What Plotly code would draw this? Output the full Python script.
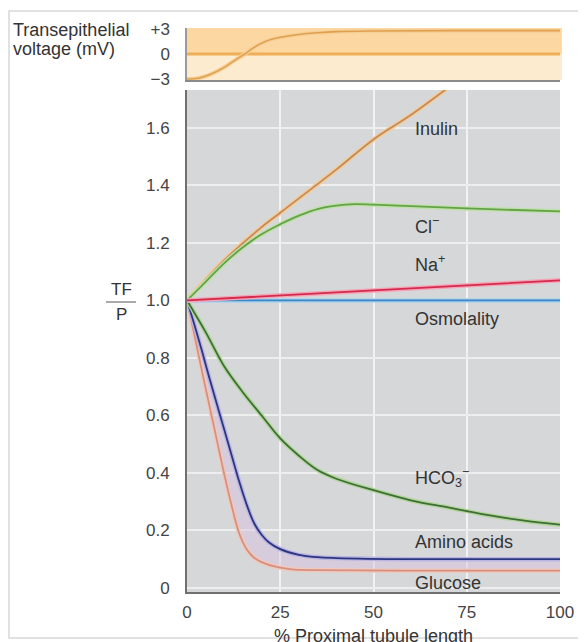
import plotly.graph_objects as go

# ---- data ----
volt_x = [0, 3, 6, 10, 13, 15.5, 18, 21, 25, 30, 35, 40, 50, 70, 100]
volt_mv = [-3.0, -2.9, -2.5, -1.6, -0.7, 0.0, 0.8, 1.5, 2.0, 2.35, 2.55, 2.68, 2.76, 2.8, 2.8]

inulin_x = [0, 10, 20, 25, 30, 40, 50, 60, 70]
inulin_y = [1.0, 1.14, 1.255, 1.305, 1.355, 1.455, 1.56, 1.645, 1.74]

cl_x = [0, 5, 10, 15, 20, 25, 30, 35, 40, 45, 50, 60, 75, 100]
cl_y = [1.0, 1.065, 1.13, 1.185, 1.23, 1.265, 1.295, 1.318, 1.33, 1.335, 1.333, 1.328, 1.32, 1.31]

na_x = [0, 50, 100]
na_y = [1.0, 1.035, 1.07]

osm_x = [0, 50, 100]
osm_y = [1.0, 1.0, 1.0]

hco3_x = [0, 5, 10, 15, 20, 25, 30, 35, 40, 50, 60, 70, 80, 90, 100]
hco3_y = [1.0, 0.89, 0.77, 0.68, 0.60, 0.52, 0.46, 0.41, 0.38, 0.34, 0.305, 0.28, 0.255, 0.235, 0.22]

amino_x = [0, 2, 4, 6, 8, 10, 12, 14, 16, 18, 20, 22, 25, 30, 35, 40, 60, 100]
amino_y = [1.0, 0.915, 0.825, 0.73, 0.64, 0.55, 0.46, 0.37, 0.29, 0.225, 0.185, 0.158, 0.135, 0.115, 0.107, 0.104, 0.10, 0.10]

glu_x = [0, 2, 4, 6, 8, 10, 12, 14, 16, 18, 20, 24, 28, 35, 60, 100]
glu_y = [1.0, 0.88, 0.755, 0.635, 0.515, 0.395, 0.285, 0.19, 0.135, 0.105, 0.09, 0.073, 0.065, 0.062, 0.06, 0.06]

y_ticks = [0, 0.2, 0.4, 0.6, 0.8, 1.0, 1.2, 1.4, 1.6]
y_tick_text = ["0", "0.2", "0.4", "0.6", "0.8", "1.0", "1.2", "1.4", "1.6"]
x_ticks = [0, 25, 50, 75, 100]
v_ticks = [-3, 0, 3]
v_tick_text = ["\u22123", "0", "+3"]

labels = [
    ("Inulin", 1.597),
    ("Cl<sup>\u2212</sup>", 1.26),
    ("Na<sup>+</sup>", 1.13),
    ("Osmolality", 0.936),
    ("HCO<sub>3</sub><sup>\u2212</sup>", 0.383),
    ("Amino acids", 0.16),
    ("Glucose", 0.017),
]
label_x = 60.6

FONT = "Liberation Sans"
TXT = "#333333"
FS = 18

# page-pixel helpers (page has an 8px body margin; plot area spans x 187..560, y 28..592)
def px_x(px):
    return (px - 187) / 373

def px_y(py):
    return (592 - py) / 564

fig = go.Figure()

# top panel voltage
fig.add_trace(go.Scatter(x=volt_x, y=volt_mv, xaxis="x2", yaxis="y2", mode="lines",
                         line=dict(color="#f6cf95", width=4, shape="spline"), hoverinfo="skip"))
fig.add_trace(go.Scatter(x=volt_x, y=volt_mv, xaxis="x2", yaxis="y2", mode="lines",
                         line=dict(color="#e0a050", width=1.6, shape="spline")))

series = [
    (glu_x, glu_y, "#d49080", "#f2c8bc"),
    (amino_x, amino_y, "#2b3580", "#b9b4e2"),
    (hco3_x, hco3_y, "#3e6d38", "#b2d69a"),
    (inulin_x, inulin_y, "#c48a5c", "#f4cc96"),
    (cl_x, cl_y, "#64a24a", "#bfe0a8"),
    (osm_x, osm_y, "#3b86c4", "#a8d2ec"),
    (na_x, na_y, "#d42a4e", "#f4a4b6"),
]

# light lavender fill between amino acids and glucose
fig.add_trace(go.Scatter(x=glu_x, y=glu_y, mode="lines", line=dict(width=0, shape="spline"),
                         hoverinfo="skip"))
fig.add_trace(go.Scatter(x=amino_x, y=amino_y, mode="lines", line=dict(width=0, shape="spline"),
                         fill="tonexty", fillcolor="rgba(214,190,222,0.45)", hoverinfo="skip"))

for sx, sy, core, halo in series:
    fig.add_trace(go.Scatter(x=sx, y=sy, mode="lines", line=dict(color=halo, width=4.5, shape="spline"),
                             hoverinfo="skip"))
    fig.add_trace(go.Scatter(x=sx, y=sy, mode="lines", line=dict(color=core, width=1.8, shape="spline")))

for text, yv in labels:
    fig.add_annotation(x=label_x, y=yv, xref="x", yref="y", text=text, showarrow=False,
                       xanchor="left", yanchor="middle", font=dict(family=FONT, size=FS, color=TXT))

# TF / P
fig.add_annotation(x=px_x(121), y=px_y(290), xref="paper", yref="paper", text="TF", showarrow=False,
                   xanchor="center", yanchor="middle", font=dict(family=FONT, size=FS - 1, color=TXT))
fig.add_annotation(x=px_x(121), y=px_y(314), xref="paper", yref="paper", text="P", showarrow=False,
                   xanchor="center", yanchor="middle", font=dict(family=FONT, size=FS - 1, color=TXT))
fig.add_shape(type="line", xref="paper", yref="paper", x0=px_x(106), x1=px_x(136),
              y0=px_y(302), y1=px_y(302), line=dict(color="#555", width=1))

# voltage label (two lines)
fig.add_annotation(x=px_x(11), y=px_y(30), xref="paper", yref="paper",
                   text="Transepithelial", showarrow=False,
                   xanchor="left", yanchor="middle", font=dict(family=FONT, size=FS, color=TXT))
fig.add_annotation(x=px_x(11), y=px_y(49), xref="paper", yref="paper",
                   text="voltage (mV)", showarrow=False,
                   xanchor="left", yanchor="middle", font=dict(family=FONT, size=FS, color=TXT))

# x-axis title
fig.add_annotation(x=50, y=px_y(636), xref="x", yref="paper", text="% Proximal tubule length",
                   showarrow=False, xanchor="center", yanchor="middle",
                   font=dict(family=FONT, size=FS, color=TXT))

shapes = [
    # main panel gray background
    dict(type="rect", xref="x domain", yref="y domain", x0=0, x1=1, y0=0, y1=1,
         fillcolor="#d5d7d9", line=dict(width=0), layer="below"),
    # top panel orange bands
    dict(type="rect", xref="x2 domain", yref="y2", x0=0, x1=1.005, y0=0, y1=3.2,
         fillcolor="#fcd7a2", line=dict(width=0), layer="below"),
    dict(type="rect", xref="x2 domain", yref="y2", x0=0, x1=1.005, y0=-3.12, y1=0,
         fillcolor="#fdebcf", line=dict(width=0), layer="below"),
    dict(type="line", xref="x2 domain", yref="y2", x0=0, x1=1.0, y0=0, y1=0,
         line=dict(color="#eeae55", width=3), layer="below"),
    # frame
    dict(type="rect", xref="paper", yref="paper", x0=px_x(9), x1=px_x(600),
         y0=px_y(638), y1=px_y(11), line=dict(color="#d8d8d8", width=1.5)),
]
for s in shapes:
    fig.add_shape(**s)

tick_font = dict(family=FONT, size=FS - 1, color="#444")

fig.update_layout(
    width=578, height=634,
    margin=dict(l=179, r=26, t=20, b=50),
    paper_bgcolor="white", plot_bgcolor="rgba(0,0,0,0)",
    showlegend=False,
    xaxis=dict(domain=[0, 1], range=[0, 100], tickvals=x_ticks, ticktext=[str(v) for v in x_ticks],
               showgrid=True, gridcolor="#f2f2f2", gridwidth=1.5, zeroline=False,
               showline=True, linecolor="#707070", linewidth=2, ticks="", tickfont=tick_font,
               ticklabelstandoff=4, anchor="y"),
    yaxis=dict(domain=[0, px_y(90)], range=[-0.014, 1.732], tickvals=y_ticks, ticktext=y_tick_text,
               showgrid=True, gridcolor="#eeeeee", gridwidth=1.5, zeroline=False,
               showline=True, linecolor="#707070", linewidth=2, ticks="", tickfont=tick_font,
               ticklabelstandoff=12, anchor="x"),
    xaxis2=dict(domain=[0, 1], range=[0, 100], showgrid=False, zeroline=False, showticklabels=False,
                showline=True, linecolor="#8a8a8a", linewidth=2, anchor="y2", ticks=""),
    yaxis2=dict(domain=[px_y(80), 1], range=[-3.12, 3.12], tickvals=v_ticks, ticktext=v_tick_text,
                showgrid=False, zeroline=False, showline=True, linecolor="#9a9a9a", linewidth=1.5,
                ticks="", tickfont=tick_font, ticklabelstandoff=12, anchor="x2"),
)

fig.write_html("out.html")
